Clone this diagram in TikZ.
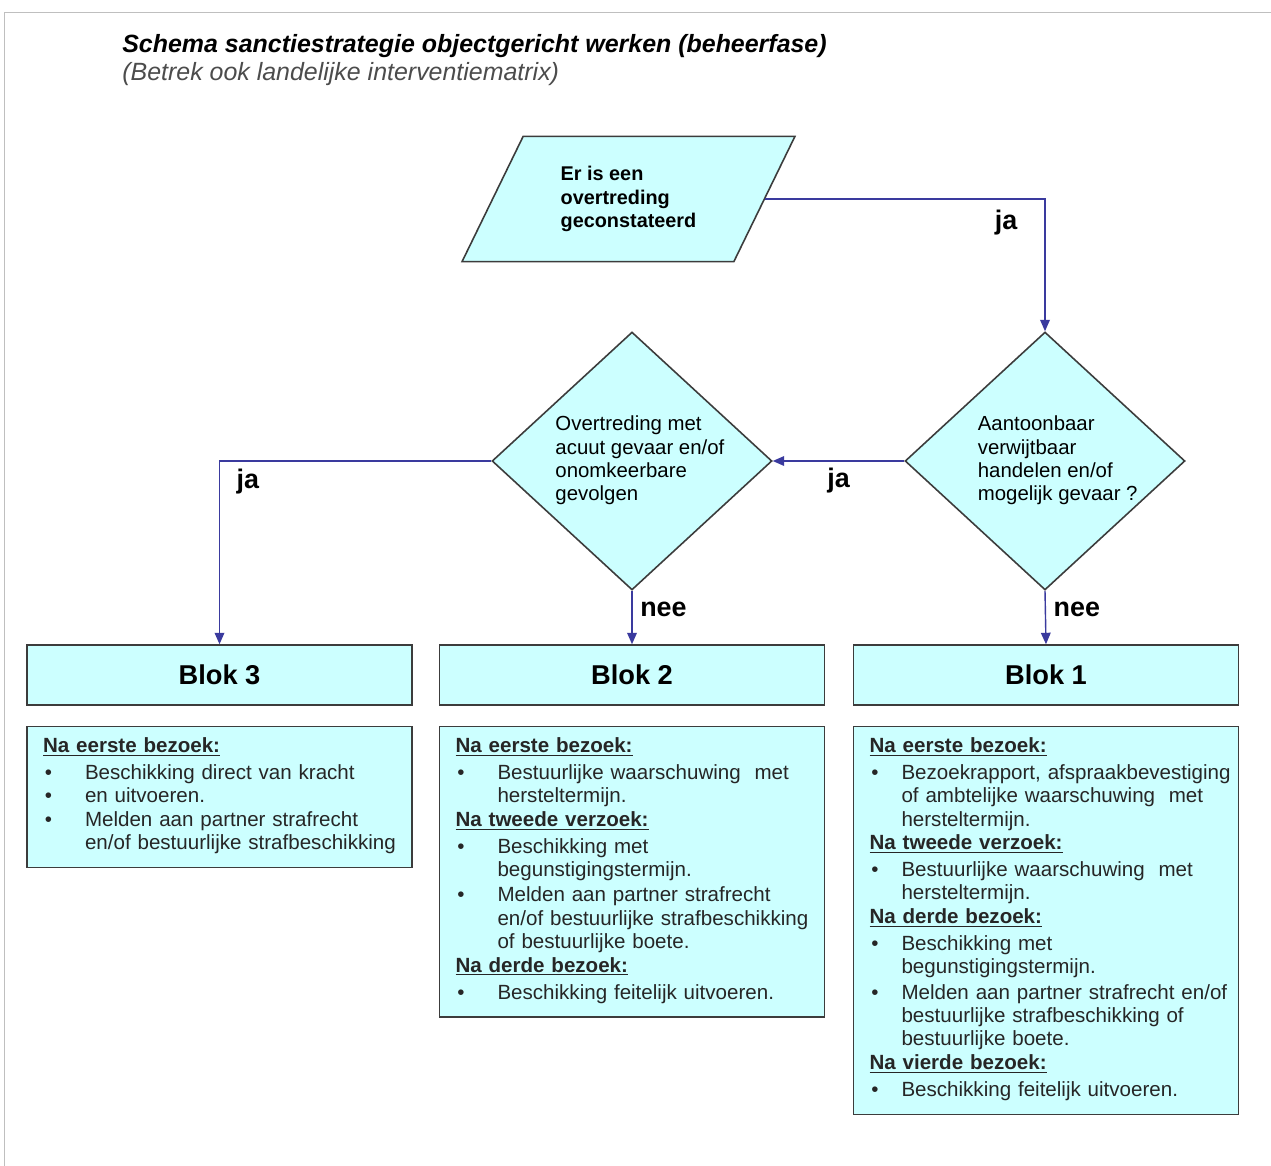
\documentclass[tikz,border=0pt]{standalone}
\usepackage{fontspec}
\setmainfont{Liberation Sans}
\usetikzlibrary{shapes.geometric,arrows.meta,positioning}
\definecolor{vakblauw}{RGB}{204,255,255}
\definecolor{pijlblauw}{RGB}{58,58,158}
\definecolor{rand}{RGB}{60,60,60}
\newlength{\inspring}
\setlength{\inspring}{0.84cm}
\newcommand{\kop}[1]{\noindent\underline{\textbf{#1}}\par\vspace{2pt}}
\newcommand{\punt}[1]{\noindent\makebox[\inspring][l]{\hspace{1pt}\textbullet}\begin{tabular}[t]{@{}l@{}}#1\end{tabular}\par}
\newcommand{\vraag}[2]{\begin{tabular}{@{\hspace{#1}}l@{}}#2\end{tabular}}
\tikzset{
  vak/.style={draw=rand, line width=0.9pt, fill=vakblauw},
  invoer/.style={vak, trapezium, trapezium left angle=64, trapezium right angle=116,
    trapezium stretches body, minimum width=6.66cm, inner ysep=0.59cm,
    align=left, font=\fontsize{11.3}{13.6}\selectfont\bfseries},
  keuze/.style={vak, diamond, aspect=1.085, inner ysep=0pt, inner xsep=-3pt,
    minimum width=5.6cm, minimum height=5.16cm, font=\fontsize{11.6}{13.2}\selectfont},
  blok/.style={vak, minimum width=7.7cm, minimum height=1.2cm,
    font=\fontsize{15.5}{18}\selectfont\bfseries},
  inhoud/.style={vak, text width=7.06cm, inner xsep=0.32cm, inner ysep=0.22cm,
    align=left, text=black!85, font=\fontsize{11.7}{13.3}\selectfont},
  pijl/.style={draw=pijlblauw, line width=0.8pt, -{Triangle[length=6.5pt,width=5.5pt]}},
  antw/.style={font=\fontsize{15.3}{18}\selectfont\bfseries}
}
\begin{document}
\begin{tikzpicture}[x=0.02cm, y=-0.02cm]
\fill[white] (0,0) rectangle (1271,1166);
\useasboundingbox (0,0) rectangle (1271,1166);
\draw[black!25] (4,1166) -- (4,12) -- (1271,12);

% titel
\node[anchor=base west, inner sep=0pt, font=\fontsize{14.2}{17}\selectfont\bfseries\itshape] (titel) at (122,53) {Schema sanctiestrategie objectgericht werken (beheerfase)};
\node[anchor=base west, inner sep=0pt, text=black!70, font=\fontsize{14.2}{17}\selectfont\itshape] (subtitel) at (122,81) {(Betrek ook landelijke interventiematrix)};

% vragen
\node[invoer] (start) at (628.5,199) {Er is een\\overtreding\\geconstateerd};
\node[keuze] (verwijt) at (1045,461) {\vraag{14.5pt}{Aantoonbaar\\verwijtbaar\\handelen en/of\\mogelijk gevaar ?}};
\node[keuze] (gevaar) at (632,461) {\vraag{9pt}{Overtreding met\\acuut gevaar en/of\\onomkeerbare\\gevolgen}};

% blokken
\node[blok] (blok3) at (219.5,675) {Blok 3};
\node[blok] (blok2) at (632,675) {Blok 2};
\node[blok] (blok1) at (1046,675) {Blok 1};

% maatregelen
\node[inhoud, below=0.4cm of blok3] (inh3) {%
\kop{Na eerste bezoek:}
\punt{Beschikking direct van kracht}
\punt{en uitvoeren.}
\punt{Melden aan partner strafrecht\\en/of bestuurlijke strafbeschikking}};
\node[inhoud, below=0.4cm of blok2] (inh2) {%
\kop{Na eerste bezoek:}
\punt{Bestuurlijke waarschuwing~ met\\hersteltermijn.}
\kop{Na tweede verzoek:}
\punt{Beschikking met\\begunstigingstermijn.}
\punt{Melden aan partner strafrecht\\en/of bestuurlijke strafbeschikking\\of bestuurlijke boete.}
\kop{Na derde bezoek:}
\punt{Beschikking feitelijk uitvoeren.}};
\node[inhoud, below=0.4cm of blok1] (inh1) {\setlength{\inspring}{0.64cm}%
\kop{Na eerste bezoek:}
\punt{Bezoekrapport, afspraakbevestiging\\of ambtelijke waarschuwing~ met\\hersteltermijn.}
\kop{Na tweede verzoek:}
\punt{Bestuurlijke waarschuwing~ met\\hersteltermijn.}
\kop{Na derde bezoek:}
\punt{Beschikking met\\begunstigingstermijn.}
\punt{Melden aan partner strafrecht en/of\\bestuurlijke strafbeschikking of\\bestuurlijke boete.}
\kop{Na vierde bezoek:}
\punt{Beschikking feitelijk uitvoeren.}};

% pijlen
\draw[pijl] (start.east) -| node[antw, pos=0.59, left=12pt] {ja} (verwijt.north);
\draw[pijl] (verwijt.west) -- node[antw, below=0pt] {ja} (gevaar.east);
\draw[pijl] (gevaar.west) -| node[antw, pos=0.555, right=6pt] {ja} (blok3.north);
\draw[pijl] (gevaar.south) -- node[antw, pos=0.35, right=1pt] {nee} (blok2.north);
\draw[pijl] (verwijt.south) -- node[antw, pos=0.35, right=1pt] {nee} (blok1.north);
\end{tikzpicture}
\end{document}
